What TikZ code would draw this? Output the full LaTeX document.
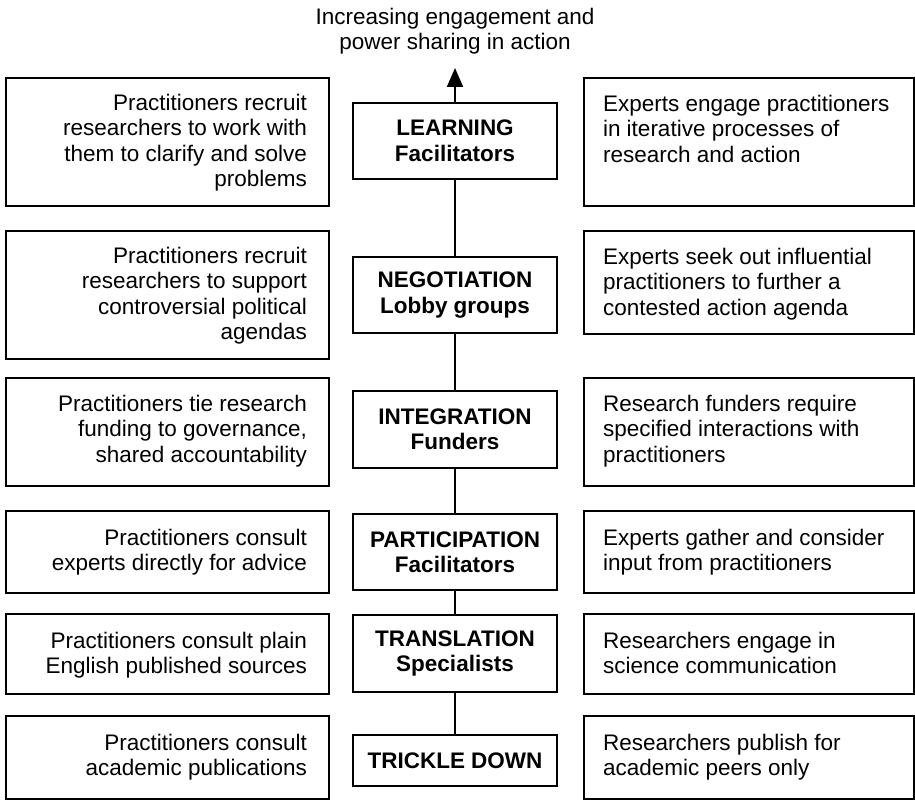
\documentclass[tikz,border=0pt]{standalone}
\usepackage{fontspec}
\setmainfont{Liberation Sans}
\usepackage{tikz}
\usetikzlibrary{arrows.meta}
\usetikzlibrary{positioning}
\newcommand{\figfont}{\fontsize{22.5pt}{25.5pt}\selectfont}
\tikzstyle{stage}=[rectangle,draw=black,minimum width=204pt,inner sep=0pt,align=center,font=\figfont\bfseries]
\tikzstyle{sidebox}=[rectangle,draw=black,anchor=north west,inner sep=0pt]
\tikzstyle{lefttext}=[anchor=north east,align=right,inner sep=0pt,font=\figfont]
\tikzstyle{righttext}=[anchor=north west,align=left,inner sep=0pt,font=\figfont]
\tikzstyle{arrow}=[-{Triangle[length=19pt,width=16pt]}]
\tikzset{every picture/.style={
    line width=2pt
  }
}
\begin{document}
\begin{tikzpicture}[x=1pt,y=-1pt]
      \useasboundingbox (0,0) rectangle (915,805);
      \node[align=center,inner sep=0pt,font=\figfont,anchor=north] at (455,7) (goal) {Increasing engagement and\\power sharing in action};
      \coordinate (tip) at (455,68);
      \node[stage,minimum height=76pt] at (455,141) (lrn) {LEARNING\\Facilitators};
      \node[stage,minimum height=76pt] at (455,295) (neg) {NEGOTIATION\\Lobby groups};
      \node[stage,minimum height=77pt] at (455,429.5) (intg) {INTEGRATION\\Funders};
      \node[stage,minimum height=76pt] at (455,552) (part) {PARTICIPATION\\Facilitators};
      \node[stage,minimum height=77pt] at (455,653.5) (trans) {TRANSLATION\\Specialists};
      \node[stage,minimum height=51pt] at (455,760.5) (trick) {TRICKLE DOWN};
      \draw[arrow] (lrn) -- (tip);
      \draw (lrn) -- (neg);
      \draw (neg) -- (intg);
      \draw (intg) -- (part);
      \draw (part) -- (trans);
      \draw (trans) -- (trick);
      \node[sidebox,minimum width=323pt,minimum height=128pt] at (5,77) (l1) {};
      \node[sidebox,minimum width=330pt,minimum height=128pt] at (583,77) (r1) {};
      \node[sidebox,minimum width=323pt,minimum height=128pt] at (5,230) (l2) {};
      \node[sidebox,minimum width=330pt,minimum height=103pt] at (583,230) (r2) {};
      \node[sidebox,minimum width=323pt,minimum height=108pt] at (5,377) (l3) {};
      \node[sidebox,minimum width=330pt,minimum height=108pt] at (583,377) (r3) {};
      \node[sidebox,minimum width=323pt,minimum height=82pt] at (5,510) (l4) {};
      \node[sidebox,minimum width=330pt,minimum height=82pt] at (583,510) (r4) {};
      \node[sidebox,minimum width=323pt,minimum height=80pt] at (5,613) (l5) {};
      \node[sidebox,minimum width=330pt,minimum height=80pt] at (583,613) (r5) {};
      \node[sidebox,minimum width=323pt,minimum height=83pt] at (5,715) (l6) {};
      \node[sidebox,minimum width=330pt,minimum height=83pt] at (583,715) (r6) {};
      \node[lefttext] at ([shift={(-22,16)}]l1.north east) (l1t) {Practitioners recruit\\researchers to work with\\them to clarify and solve\\problems};
      \node[righttext] at ([shift={(19,17)}]r1.north west) (r1t) {Experts engage practitioners\\in iterative processes of\\research and action};
      \node[lefttext] at ([shift={(-22,16)}]l2.north east) (l2t) {Practitioners recruit\\researchers to support\\controversial political\\agendas};
      \node[righttext] at ([shift={(19,17)}]r2.north west) (r2t) {Experts seek out influential\\practitioners to further a\\contested action agenda};
      \node[lefttext] at ([shift={(-22,17)}]l3.north east) (l3t) {Practitioners tie research\\funding to governance,\\shared accountability};
      \node[righttext] at ([shift={(19,17)}]r3.north west) (r3t) {Research funders require\\specified interactions with\\practitioners};
      \node[lefttext] at ([shift={(-22,18)}]l4.north east) (l4t) {Practitioners consult\\experts directly for advice};
      \node[righttext] at ([shift={(19,18)}]r4.north west) (r4t) {Experts gather and consider\\input from practitioners};
      \node[lefttext] at ([shift={(-22,18)}]l5.north east) (l5t) {Practitioners consult plain\\English published sources};
      \node[righttext] at ([shift={(19,18)}]r5.north west) (r5t) {Researchers engage in\\science communication};
      \node[lefttext] at ([shift={(-22,18)}]l6.north east) (l6t) {Practitioners consult\\academic publications};
      \node[righttext] at ([shift={(19,18)}]r6.north west) (r6t) {Researchers publish for\\academic peers only};
    \end{tikzpicture}
\end{document}
